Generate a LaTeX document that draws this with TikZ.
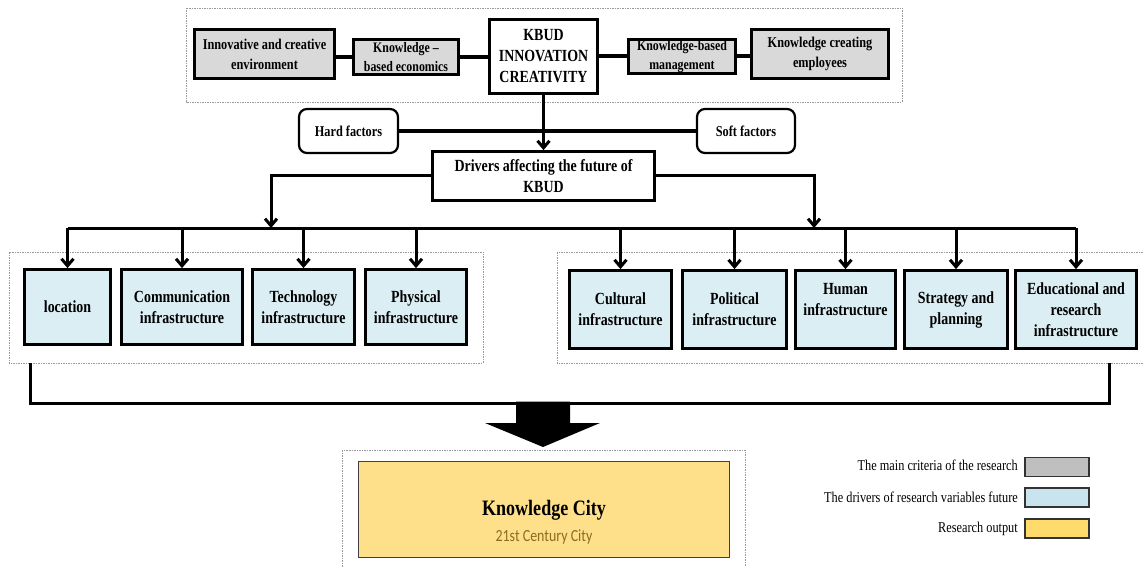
\documentclass[tikz,border=0pt]{standalone}
\usepackage{fontspec}
\setmainfont{Liberation Serif}[FakeStretch=0.82]
\newfontfamily\calibfont{Carlito}[FakeStretch=0.82]
\usetikzlibrary{arrows.meta}
\definecolor{critgray}{HTML}{D9D9D9}
\definecolor{leggray}{HTML}{BFBFBF}
\definecolor{drvblue}{HTML}{DBEEF4}
\definecolor{legblue}{HTML}{C9E4EE}
\definecolor{cityyellow}{HTML}{FFE08A}
\definecolor{legyellow}{HTML}{FFDB6E}
\definecolor{citybrown}{HTML}{8A6D1E}
\tikzset{
  grp/.style={draw=gray!80, line width=0.7pt, dash pattern=on 1.5pt off 1pt},
  crit/.style={draw, line width=2.8pt, fill=critgray, align=center, inner sep=0pt, font=\fontsize{15}{20}\selectfont\bfseries},
  critsm/.style={crit, font=\fontsize{14.5}{19}\selectfont\bfseries},
  core/.style={draw, line width=2.8pt, fill=white, align=center, inner sep=0pt, font=\fontsize{17}{21}\selectfont\bfseries},
  factor/.style={draw, line width=2.2pt, rounded corners=8pt, fill=white, align=center, inner sep=0pt, font=\fontsize{15}{20}\selectfont\bfseries},
  drvbox/.style={draw, line width=2.8pt, fill=drvblue, align=center, inner sep=0pt, font=\fontsize{17}{21}\selectfont\bfseries},
  link/.style={line width=4pt},
  conn/.style={line width=3pt, line join=miter},
  arr/.style={conn, -{Straight Barb[length=7pt,width=12pt]}},
  legtext/.style={anchor=east, inner sep=0pt, font=\fontsize{15}{18}\selectfont},
  legbox/.style={draw=black!80, line width=1.2pt, minimum width=64pt, minimum height=19pt, inner sep=0pt}
}
\begin{document}
\begin{tikzpicture}[x=1pt,y=-1pt]
\useasboundingbox (0,0) rectangle (1144,567);
% group frames
\draw[grp] (186,8) rectangle (902,102);
\draw[grp] (9,252) rectangle (483,363);
\draw[grp] (557,252) rectangle (1150,363);
\draw[grp] (342,450) rectangle (745,575);

% top row
\node[crit, minimum width=140pt, minimum height=49pt] (inn) at (264.5,54) {Innovative and creative\\environment};
\node[critsm, minimum width=105pt, minimum height=35pt] (kbe) at (406,57) {Knowledge --\\based economics};
\node[core, minimum width=108pt, minimum height=74pt] (kbud) at (543.5,56.5) {KBUD\\INNOVATION\\CREATIVITY};
\node[critsm, minimum width=107pt, minimum height=34pt] (kbm) at (682,56.5) {Knowledge-based\\management};
\node[crit, minimum width=137pt, minimum height=49pt] (kce) at (820,54) {Knowledge creating\\employees};
\draw[link] (inn.east |- kbe.west) -- (kbe.west);
\draw[link] (kbe.east) -- (kbud.west |- kbe.east);
\draw[link] (kbud.east |- kbm.west) -- (kbm.west);
\draw[link] (kbm.east) -- (kce.west |- kbm.east);

% factors
\node[factor, minimum width=99pt, minimum height=44pt] (hard) at (348.5,131) {Hard factors};
\node[factor, minimum width=98pt, minimum height=44pt] (soft) at (746,131) {Soft factors};
\draw[conn, line width=3.5pt] (hard.east) -- (soft.west);

% drivers
\node[core, minimum width=222pt, minimum height=49pt] (drv) at (543.5,176) {Drivers affecting the future of\\KBUD};
\draw[arr] (kbud.south) -- (drv.north);

% driver boxes
\node[drvbox, minimum width=86pt, minimum height=75pt] (loc) at (67.5,307) {location};
\node[drvbox, minimum width=121pt, minimum height=75pt] (com) at (182,307) {Communication\\infrastructure};
\node[drvbox, minimum width=102pt, minimum height=75pt] (tec) at (303.5,307) {Technology\\infrastructure};
\node[drvbox, minimum width=101pt, minimum height=75pt] (phy) at (416,307) {Physical\\infrastructure};
\node[drvbox, minimum width=102pt, minimum height=78pt] (cul) at (620.5,309.5) {Cultural\\infrastructure};
\node[drvbox, minimum width=104pt, minimum height=78pt] (pol) at (734.5,309.5) {Political\\infrastructure};
\node[drvbox, minimum width=100pt, minimum height=78pt] (hum) at (845.5,309.5) {Human\\infrastructure\\~};
\node[drvbox, minimum width=103pt, minimum height=78pt] (str) at (956,309.5) {Strategy and\\planning};
\node[drvbox, minimum width=121pt, minimum height=78pt] (edu) at (1076,309.5) {Educational and\\research\\infrastructure};

% bus
\coordinate (bl) at (271,228);
\coordinate (br) at (814,228);
\draw[conn] (loc.north |- bl) -- (edu.north |- bl);
\draw[arr] (drv.west) -| (bl);
\draw[arr] (drv.east) -| (br);
\foreach \n in {loc,com,tec,phy,cul,pol,hum,str,edu}
  \draw[arr] (\n.north |- bl) -- (\n.north);

% collector
\coordinate (outL) at (30,363);
\coordinate (outR) at (1109,363);
\draw[conn] (outL) -- ++(0,40) -| (outR);
\fill[black] (516,401.5) -- (570,401.5) -- (570,423) -- (600,423) -- (543,447) -- (485,423) -- (516,423) -- cycle;

% output
\node[draw=black!75, line width=1.3pt, fill=cityyellow, minimum width=371pt, minimum height=96pt, inner sep=0pt] (kc) at (544,509.5) {};
\node[inner sep=0pt, font=\fontsize{22}{26}\selectfont\bfseries] (kct) at (544,510) {Knowledge City};
\node[inner sep=0pt, font=\calibfont\fontsize{17}{20}\selectfont, text=citybrown] (kcs) at (544,537) {21st Century City};

% legend
\node[legbox, fill=leggray] (lg1) at (1057,467) {};
\node[legbox, fill=legblue] (lg2) at (1057,497.5) {};
\node[legbox, fill=legyellow] (lg3) at (1057,528.5) {};
\node[legtext] (lt1) at (1018,465) {The main criteria of the research};
\node[legtext] (lt2) at (1018,497) {The drivers of research variables future};
\node[legtext] (lt3) at (1018,529) {Research output};
\end{tikzpicture}
\end{document}
